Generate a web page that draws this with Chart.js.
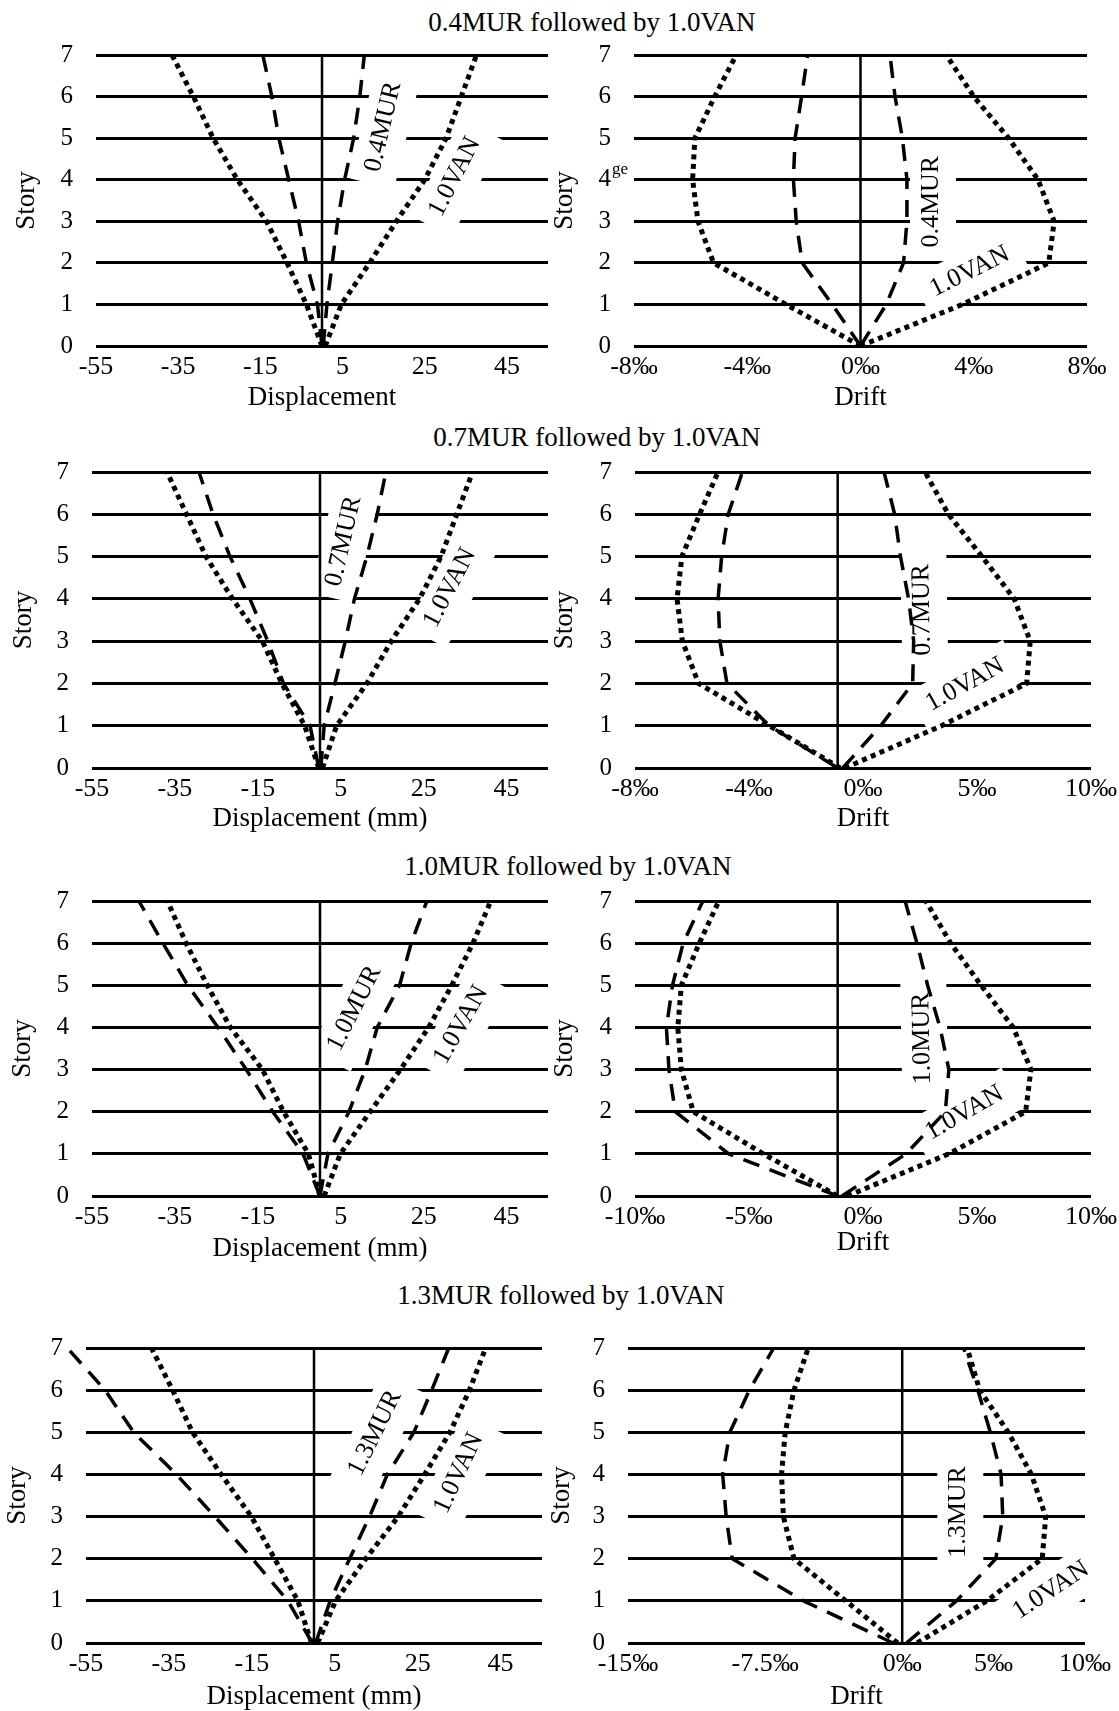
<!DOCTYPE html>
<html>
<head>
<meta charset="utf-8">
<script src="https://cdn.jsdelivr.net/npm/chart.js@4.4.1/dist/chart.umd.min.js"></script>
<style>
  html, body { margin: 0; padding: 0; background: #fff; }
  #fig { position: relative; width: 1119px; height: 1711px; font-family: "Liberation Serif", "Times New Roman", serif; color: #000; }
  #fig canvas { position: absolute; }
  .title { position: absolute; width: 600px; text-align: center; font-size: 27px; line-height: 30px; white-space: nowrap; }
  .stray { position: absolute; font-size: 17px; line-height: 17px; }
</style>
</head>
<body>
<div id="fig">
  <div class="title" style="left:292px;top:7px">0.4MUR followed by 1.0VAN</div>
  <div class="title" style="left:297px;top:422px">0.7MUR followed by 1.0VAN</div>
  <div class="title" style="left:268px;top:851px">1.0MUR followed by 1.0VAN</div>
  <div class="title" style="left:261px;top:1280px">1.3MUR followed by 1.0VAN</div>
</div>
<script>
// Stories (y axis)
const stories = [0, 1, 2, 3, 4, 5, 6, 7];

// Tick positions and labels
const dispTicks = [-55, -35, -15, 5, 25, 45];
const dispTickLabels = ['-55', '-35', '-15', '5', '25', '45'];
const drift1Ticks = [-8, -4, 0, 4, 8];
const drift1TickLabels = ['-8‰', '-4‰', '0‰', '4‰', '8‰'];
const drift2Ticks = [-8, -3.5, 1, 5.5, 10];
const drift2TickLabels = ['-8‰', '-4‰', '0‰', '5‰', '10‰'];
const drift3Ticks = [-8, -3.5, 1, 5.5, 10];
const drift3TickLabels = ['-10‰', '-5‰', '0‰', '5‰', '10‰'];
const drift4Ticks = [-15, -7.5, 0, 5, 10];
const drift4TickLabels = ['-15‰', '-7.5‰', '0‰', '5‰', '10‰'];

// 0.4MUR followed by 1.0VAN
const disp04MurMin = [0, -1.1, -3.8, -5.7, -8.1, -10.5, -12.2, -14.4];
const disp04MurMax = [0.3, 1.2, 2.5, 3.8, 5.5, 7.7, 9.2, 10.3];
const disp04VanMin = [0, -3.8, -8.5, -13.5, -20.6, -26.5, -31.3, -36.5];
const disp04VanMax = [0.8, 4.7, 11.6, 18.1, 25.0, 30.2, 33.9, 37.6];
const drift04MurMin = [0, -1.0, -2.06, -2.27, -2.37, -2.31, -2.08, -1.87];
const drift04MurMax = [0, 0.91, 1.52, 1.64, 1.64, 1.48, 1.22, 1.04];
const drift04VanMin = [0, -2.63, -5.19, -5.74, -5.93, -5.85, -5.15, -4.39];
const drift04VanMax = [0, 3.6, 6.65, 6.84, 6.27, 5.23, 4.0, 3.03];

// 0.7MUR followed by 1.0VAN
const disp07MurMin = [-0.3, -2.4, -8.8, -12.6, -16.9, -21.7, -25.8, -29.2];
const disp07MurMax = [0.2, 1.0, 3.6, 6.1, 8.3, 11.3, 13.8, 15.9];
const disp07VanMin = [-0.3, -3.7, -9.2, -13.9, -21.1, -27.5, -32.2, -36.9];
const disp07VanMax = [0.6, 4.0, 11.3, 17.2, 24.0, 29.2, 33.0, 36.8];
const drift07MurMin = [0, -2.7, -4.37, -4.65, -4.72, -4.58, -4.32, -3.76];
const drift07MurMax = [0.2, 1.7, 2.96, 3.0, 2.8, 2.48, 2.25, 1.83];
const drift07VanMin = [0.1, -2.7, -5.49, -6.13, -6.34, -6.15, -5.45, -4.72];
const drift07VanMax = [0.28, 4.1, 7.46, 7.6, 6.97, 5.7, 4.37, 3.45];

// 1.0MUR followed by 1.0VAN
const disp10MurMin = [0, -4.1, -11.4, -17.8, -24.6, -31.9, -37.9, -43.7];
const disp10MurMax = [0, 1.9, 7.0, 10.9, 13.8, 19.2, 22.0, 25.8];
const disp10VanMin = [0, -2.8, -8.8, -13.9, -21.6, -27.2, -32.3, -36.8];
const disp10VanMax = [1.0, 4.9, 12.1, 19.4, 26.2, 31.8, 36.9, 41.2];
const drift10MurMin = [0, -4.3, -6.41, -6.66, -6.76, -6.52, -6.1, -5.32];
const drift10MurMax = [0.17, 2.7, 4.25, 4.39, 4.04, 3.55, 3.13, 2.66];
const drift10VanMin = [0, -2.93, -5.7, -6.17, -6.31, -6.17, -5.46, -4.69];
const drift10VanMax = [0.38, 4.39, 7.42, 7.63, 6.93, 5.66, 4.46, 3.48];

// 1.3MUR followed by 1.0VAN
const disp13MurMin = [-0.4, -6.3, -14.9, -23.9, -33.2, -43.5, -50.4, -59.5];
const disp13MurMax = [0.4, 3.9, 8.6, 13.4, 17.7, 24.1, 28.4, 32.5];
const disp13VanMin = [-0.6, -3.9, -9.5, -15.1, -22.4, -29.3, -34.1, -39.2];
const disp13VanMax = [0.9, 5.2, 12.5, 20.3, 26.7, 32.8, 37.5, 41.4];
const drift13MurMin = [-0.5, -5.4, -9.3, -9.63, -9.82, -9.43, -8.36, -7.03];
const drift13MurMax = [0.23, 2.97, 5.12, 5.5, 5.41, 4.82, 4.14, 3.36];
const drift13VanMin = [-0.25, -3.09, -5.92, -6.5, -6.6, -6.4, -5.92, -5.14];
const drift13VanMax = [0.82, 4.63, 7.66, 7.85, 7.07, 5.8, 4.24, 3.55];

Chart.defaults.font.family = '"Liberation Serif", "Times New Roman", serif';
Chart.defaults.color = '#000';

// zero line + rotated curve labels on white boxes
const figurePlugin = {
  id: 'figure',
  beforeDatasetsDraw(chart, args, opts) {
    const ctx = chart.ctx;
    const x = chart.scales.x, y = chart.scales.y;
    ctx.save();
    ctx.font = '26px "Liberation Serif", "Times New Roman", serif';
    ctx.textAlign = 'center';
    ctx.textBaseline = 'middle';
    const notes = opts.notes || [];
    notes.forEach(([text, vx, vy, deg]) => {
      const w = ctx.measureText(text).width;
      ctx.save();
      ctx.translate(x.getPixelForValue(vx), y.getPixelForValue(vy));
      ctx.rotate(deg * Math.PI / 180);
      ctx.fillStyle = '#fff';
      ctx.fillRect(-w / 2 - 12, -21, w + 24, 46);
      ctx.restore();
    });
    const x0 = x.getPixelForValue(0);
    ctx.strokeStyle = '#000';
    ctx.lineWidth = 2.5;
    ctx.beginPath();
    ctx.moveTo(x0, y.getPixelForValue(7));
    ctx.lineTo(x0, y.getPixelForValue(0));
    ctx.stroke();
    ctx.fillStyle = '#000';
    notes.forEach(([text, vx, vy, deg]) => {
      ctx.save();
      ctx.translate(x.getPixelForValue(vx), y.getPixelForValue(vy));
      ctx.rotate(deg * Math.PI / 180);
      ctx.fillText(text, 0, 0);
      ctx.restore();
    });
    ctx.restore();
  }
};

const panels = [
  { box: [0, 30, 580, 386], plot: [96, 55, 548, 346], xMin: -55, xMax: 55, ticks: dispTicks, tickLabels: dispTickLabels,
    xTitle: 'Displacement', titleGap: 52, storyX: 27,
    series: [disp04MurMin, disp04MurMax, disp04VanMin, disp04VanMax],
    notes: [['0.4MUR', 14.9, 5.27, -76.6], ['1.0VAN', 32.3, 4.07, -62.7]] },
  { box: [540, 30, 579, 386], plot: [634, 55, 1087, 346], xMin: -8, xMax: 8, ticks: drift1Ticks, tickLabels: drift1TickLabels,
    xTitle: 'Drift', titleGap: 52, storyX: 565,
    series: [drift04MurMin, drift04MurMax, drift04VanMin, drift04VanMax],
    notes: [['0.4MUR', 2.49, 3.47, -90], ['1.0VAN', 3.86, 1.79, -26.5]] },
  { box: [0, 455, 580, 383], plot: [92, 472, 548, 768], xMin: -55, xMax: 55, ticks: dispTicks, tickLabels: dispTickLabels,
    xTitle: 'Displacement (mm)', titleGap: 51, storyX: 24,
    series: [disp07MurMin, disp07MurMax, disp07VanMin, disp07VanMax],
    notes: [['0.7MUR', 5.7, 5.36, -77.1], ['1.0VAN', 31.3, 4.26, -62.3]] },
  { box: [540, 455, 579, 383], plot: [635, 472, 1091, 768], xMin: -8, xMax: 10, ticks: drift2Ticks, tickLabels: drift2TickLabels,
    xTitle: 'Drift', titleGap: 51, storyX: 565,
    series: [drift07MurMin, drift07MurMax, drift07VanMin, drift07VanMax],
    notes: [['0.7MUR', 3.34, 3.74, -91], ['1.0VAN', 5.03, 1.97, -28.9]] },
  { box: [0, 885, 580, 381], plot: [92, 901, 548, 1196], xMin: -55, xMax: 55, ticks: dispTicks, tickLabels: dispTickLabels,
    xTitle: 'Displacement (mm)', titleGap: 53, storyX: 23,
    series: [disp10MurMin, disp10MurMax, disp10VanMin, disp10VanMax],
    notes: [['1.0MUR', 8.3, 4.45, -63.2], ['1.0VAN', 34.0, 4.06, -60.3]] },
  { box: [540, 885, 579, 381], plot: [635, 901, 1091, 1196], xMin: -8, xMax: 10, ticks: drift3Ticks, tickLabels: drift3TickLabels,
    xTitle: 'Drift', titleGap: 47, storyX: 565,
    series: [drift10MurMin, drift10MurMax, drift10VanMin, drift10VanMax],
    notes: [['1.0MUR', 3.34, 3.74, -91], ['1.0VAN', 5.0, 1.97, -29.8]] },
  { box: [0, 1320, 580, 391], plot: [86, 1348, 542, 1643], xMin: -55, xMax: 55, ticks: dispTicks, tickLabels: dispTickLabels,
    xTitle: 'Displacement (mm)', titleGap: 54, storyX: 18,
    series: [disp13MurMin, disp13MurMax, disp13VanMin, disp13VanMax],
    notes: [['1.3MUR', 14.7, 4.98, -63.7], ['1.0VAN', 34.9, 4.03, -64.8]] },
  { box: [540, 1320, 579, 391], plot: [628, 1348, 1085, 1643], xMin: -15, xMax: 10, ticks: drift4Ticks, tickLabels: drift4TickLabels,
    xTitle: 'Drift', titleGap: 54, storyX: 562,
    series: [drift13MurMin, drift13MurMax, drift13VanMin, drift13VanMax],
    notes: [['1.3MUR', 3.07, 3.11, -90], ['1.0VAN', 8.14, 1.25, -33.3]] }
];

const fig = document.getElementById('fig');

panels.forEach(p => {
  const [cx, cy, cw, ch] = p.box;
  const [pl, pt, pr, pb] = p.plot;
  const canvas = document.createElement('canvas');
  canvas.width = cw;
  canvas.height = ch;
  canvas.style.left = cx + 'px';
  canvas.style.top = cy + 'px';
  fig.appendChild(canvas);
  const yW = pl - cx;
  const xH = cy + ch - pb;

  new Chart(canvas.getContext('2d'), {
    type: 'scatter',
    data: {
      datasets: p.series.map((vals, i) => ({
        data: vals.map((v, k) => ({ x: v, y: stories[k] })),
        showLine: true,
        pointRadius: 0,
        borderColor: '#000',
        borderWidth: i < 2 ? 3.5 : 5,
        borderDash: i < 2 ? [17, 11] : [5, 4.5],
        borderCapStyle: 'butt',
        tension: 0,
        clip: false
      }))
    },
    options: {
      responsive: false,
      animation: false,
      events: [],
      layout: { padding: { left: 0, top: pt - cy, right: cx + cw - pr, bottom: 0 } },
      plugins: {
        legend: { display: false },
        tooltip: { enabled: false },
        figure: { notes: p.notes }
      },
      scales: {
        x: {
          type: 'linear',
          min: p.xMin,
          max: p.xMax,
          afterBuildTicks: s => { s.ticks = p.ticks.map(v => ({ value: v })); },
          afterFit: s => { s.height = xH; s.paddingLeft = 0; s.paddingRight = 0; },
          ticks: { autoSkip: false, maxRotation: 0, padding: 6, font: { size: 26 },
                   callback: (v, i) => p.tickLabels[i] },
          grid: { display: false, drawTicks: false },
          border: { display: false },
          title: { display: true, text: p.xTitle, font: { size: 27 },
                   padding: { top: 0, bottom: xH - p.titleGap - 16.2 } }
        },
        y: {
          min: 0,
          max: 7,
          afterFit: s => { s.width = yW; s.paddingTop = 0; s.paddingBottom = 0; },
          ticks: { stepSize: 1, padding: 23, font: { size: 25 } },
          grid: { color: '#000', lineWidth: 3, drawTicks: false },
          border: { display: false },
          title: { display: true, text: 'Story', font: { size: 27 },
                   padding: { top: p.storyX - cx - 16.2, bottom: 0 } }
        }
      }
    },
    plugins: [figurePlugin]
  });
});

// stray text fragment next to the story 4 tick of the first drift panel
const stray = document.createElement('span');
stray.className = 'stray';
stray.style.left = '612px';
stray.style.top = '160px';
stray.textContent = 'ge';
fig.appendChild(stray);
</script>
</body>
</html>
